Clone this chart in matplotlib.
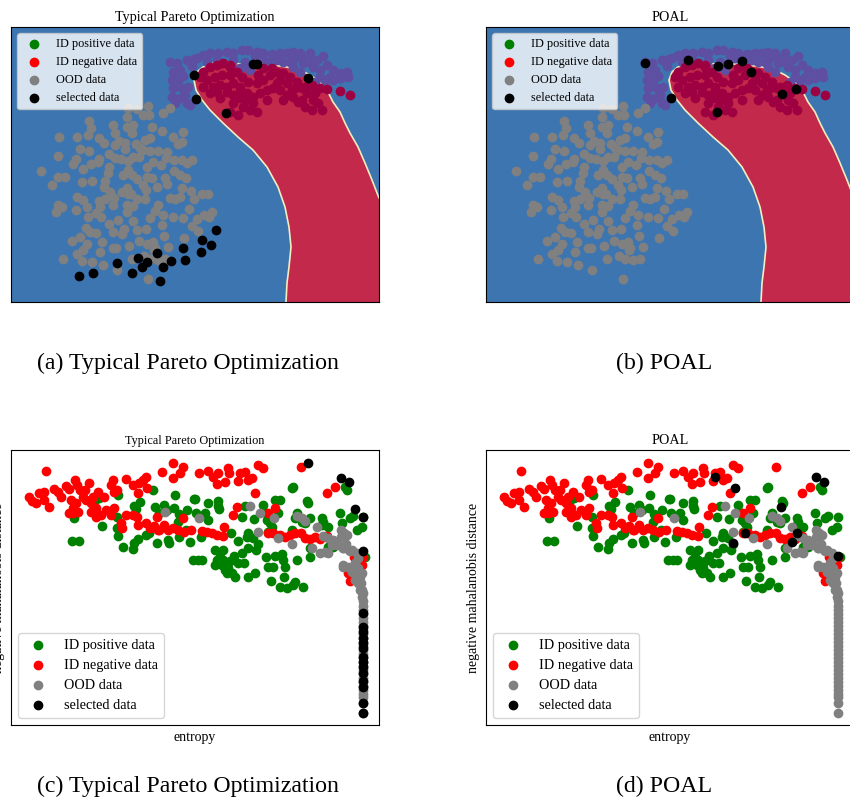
import matplotlib.pyplot as plt

plt.rcParams['font.family'] = ['Liberation Serif', 'DejaVu Serif']

# ---------------- panels (a), (b): 2-D feature space ----------------
# decision region of the "negative" class (outline of the red area)
region_pts = [(275, -2), (275, 0), (276, 19), (278, 35), (280, 55), (278, 75), (274, 95),
              (267, 115), (256, 135), (242, 152), (227, 165), (212, 179), (199, 192),
              (191, 202), (185, 212), (183, 222), (186, 230), (192, 235), (202, 239),
              (216, 240), (236, 237), (249, 238), (262, 237), (276, 235), (289, 232),
              (299, 227), (309, 220), (316, 212), (322, 200), (329, 190), (334, 179),
              (339, 169), (347, 155), (354, 139), (361, 122), (368, 104), (372, 104),
              (372, -2)]

upper_moon = [(159, 240), (166, 239), (162, 230), (169, 232), (161, 222), (167, 222), (162, 214),
              (171, 214), (161, 205), (169, 204), (176, 199), (179, 197), (164, 199), (174, 207),
              (177, 215), (176, 242), (186, 244), (192, 247), (199, 249), (207, 249), (216, 250),
              (222, 249), (231, 252), (237, 252), (246, 250), (252, 249), (261, 248), (269, 249),
              (276, 249), (282, 250), (289, 249), (299, 249), (196, 240), (206, 242), (222, 242),
              (234, 240), (249, 244), (256, 240), (266, 242), (272, 240), (282, 242), (292, 239),
              (299, 240), (229, 234), (236, 235), (239, 232), (282, 235), (289, 230), (302, 235),
              (309, 232), (316, 237), (322, 232), (329, 229), (336, 230), (337, 225), (329, 224),
              (319, 225), (309, 225), (304, 220), (314, 222), (322, 222), (279, 240), (291, 244),
              (306, 242), (312, 246), (181, 236), (172, 226), (183, 243), (244, 246), (264, 245)]

lower_moon = [(192, 230), (199, 235), (206, 237), (212, 239), (219, 237), (196, 222), (204, 225),
              (211, 227), (219, 227), (226, 230), (231, 225), (202, 215), (209, 217), (216, 215),
              (222, 219), (229, 215), (237, 220), (246, 219), (252, 222), (259, 227), (266, 230),
              (272, 229), (279, 225), (286, 220), (291, 214), (296, 209), (302, 202), (307, 199),
              (311, 192), (301, 192), (294, 195), (287, 200), (282, 205), (276, 207), (269, 212),
              (262, 214), (256, 212), (249, 209), (242, 205), (236, 202), (229, 204), (222, 207),
              (216, 210), (209, 204), (222, 199), (232, 195), (239, 192), (246, 190), (227, 187),
              (219, 190), (242, 199), (256, 202), (266, 219), (276, 219), (272, 202), (281, 212),
              (301, 217), (309, 214), (316, 213), (329, 211), (339, 207), (206, 210), (199, 209),
              (192, 215), (189, 225), (247, 227), (252, 234), (261, 234), (269, 222), (291, 202),
              (304, 209), (294, 215), (284, 214), (219, 235), (236, 209), (229, 212)]

ood_2d = [(117, 194), (126, 193), (137, 196), (116, 185), (132, 187), (138, 187), (152, 189),
          (159, 194), (78, 181), (102, 177), (116, 175), (122, 177), (80, 174), (141, 175),
          (151, 171), (104, 169), (121, 169), (48, 165), (66, 165), (77, 167), (88, 164),
          (93, 159), (108, 161), (114, 159), (125, 158), (134, 162), (139, 164), (162, 165),
          (172, 170), (167, 158), (171, 160), (69, 153), (78, 151), (104, 157), (114, 153),
          (129, 154), (132, 152), (139, 151), (147, 151), (156, 150), (47, 146), (62, 138),
          (65, 143), (88, 143), (98, 148), (104, 144), (110, 143), (117, 141), (122, 145),
          (128, 145), (142, 140), (150, 137), (155, 144), (163, 142), (171, 142), (176, 139),
          (181, 142), (30, 131), (72, 133), (80, 138), (87, 140), (98, 135), (97, 129),
          (112, 127), (117, 132), (121, 127), (126, 123), (136, 135), (136, 125), (141, 124),
          (154, 124), (163, 131), (169, 127), (175, 124), (47, 125), (54, 125), (41, 117),
          (71, 120), (81, 121), (94, 121), (93, 115), (99, 110), (111, 110), (116, 114),
          (117, 108), (120, 108), (132, 117), (135, 112), (146, 115), (156, 118), (171, 114),
          (180, 111), (191, 108), (197, 108), (66, 105), (72, 102), (88, 101), (94, 103),
          (103, 104), (126, 103), (134, 103), (159, 104), (164, 103), (169, 105), (183, 103),
          (47, 97), (51, 95), (45, 90), (65, 92), (76, 95), (89, 95), (102, 97), (116, 97),
          (122, 96), (147, 97), (144, 91), (178, 93), (201, 90), (77, 85), (85, 89), (90, 85),
          (98, 78), (107, 82), (116, 90), (122, 81), (139, 84), (152, 87), (162, 85), (172, 84),
          (186, 83), (193, 87), (198, 85), (75, 74), (79, 70), (85, 69), (102, 70), (111, 68),
          (113, 73), (126, 72), (135, 73), (151, 77), (181, 76), (187, 71), (61, 61), (69, 65),
          (76, 58), (91, 60), (102, 54), (105, 54), (118, 56), (128, 61), (136, 58), (142, 60),
          (144, 54), (153, 66), (157, 55), (173, 64), (52, 43), (66, 48), (72, 52), (71, 41),
          (81, 40), (89, 50), (92, 37), (106, 32), (121, 43), (133, 46), (139, 43), (143, 52),
          (147, 42), (154, 43), (137, 23)]

selected_a = [(183, 227), (185, 203), (215, 189), (242, 238), (246, 238), (297, 224),
              (68, 26), (82, 29), (106, 39), (121, 29), (127, 44), (131, 35), (136, 40),
              (146, 49), (152, 35), (149, 21), (160, 41), (172, 54), (174, 42), (190, 50),
              (191, 62), (200, 57), (205, 72)]

selected_b = [(159, 239), (202, 242), (232, 236), (242, 238), (256, 241), (265, 230),
              (185, 204), (231, 190), (296, 208), (310, 213)]

# ---------------- panels (c), (d): entropy vs. negative mahalanobis distance ----------------
id_positive = [(63, 207), (61, 184), (68, 184), (83, 223), (88, 227), (91, 199), (107, 230),
               (106, 208), (106, 197), (107, 189), (112, 178), (122, 176), (123, 182), (127, 186),
               (123, 219), (125, 216), (129, 223), (142, 235), (144, 218), (146, 182), (135, 190),
               (138, 192), (148, 212), (153, 220), (156, 215), (157, 185), (158, 182), (164, 230),
               (163, 217), (168, 211), (167, 203), (168, 188), (176, 215), (179, 183), (183, 226),
               (185, 212), (182, 165), (187, 165), (175, 195), (184, 226), (194, 212), (197, 222),
               (197, 205), (207, 224), (208, 216), (207, 219), (190, 188), (191, 165), (204, 175),
               (212, 175), (206, 165), (211, 160), (216, 160), (204, 160), (216, 152), (224, 148),
               (214, 155), (219, 164), (223, 169), (227, 162), (233, 162), (231, 172), (237, 177),
               (237, 148), (244, 152), (245, 175), (236, 188), (237, 192), (242, 187), (247, 181),
               (227, 184), (220, 192), (231, 208), (234, 219), (243, 206), (252, 220), (253, 213),
               (256, 205), (257, 193), (259, 202), (264, 225), (269, 225), (267, 212), (261, 198),
               (255, 168), (257, 158), (262, 158), (264, 169), (271, 171), (272, 165), (274, 158),
               (273, 148), (260, 144), (269, 138), (276, 137), (282, 140), (284, 143), (292, 138),
               (286, 165), (282, 238), (281, 237), (281, 195), (284, 207), (286, 212), (291, 203),
               (294, 202), (296, 224), (297, 222), (299, 207), (299, 168), (299, 177), (311, 207),
               (311, 200), (312, 203), (317, 198), (317, 178), (322, 178), (329, 212), (331, 202),
               (339, 207), (342, 209), (336, 235), (334, 238), (351, 198), (346, 195), (354, 168),
               (345, 148), (209, 168), (217, 157), (212, 165), (221, 152), (352, 208)]

id_negative = [(35, 254), (18, 228), (21, 224), (25, 222), (28, 232), (33, 233), (33, 225),
               (38, 218), (43, 236), (47, 233), (50, 228), (55, 239), (58, 236), (60, 225),
               (62, 217), (64, 245), (66, 240), (69, 235), (72, 228), (75, 225), (74, 235),
               (78, 242), (80, 222), (82, 228), (62, 212), (67, 213), (58, 212), (65, 222),
               (80, 213), (85, 217), (85, 208), (87, 233), (90, 210), (93, 228), (95, 215),
               (100, 240), (102, 245), (103, 233), (103, 217), (100, 210), (106, 235), (110, 202),
               (111, 197), (115, 246), (122, 240), (127, 232), (128, 242), (132, 245), (135, 248),
               (136, 237), (126, 208), (122, 210), (127, 200), (135, 202), (139, 197), (143, 199),
               (148, 195), (153, 200), (157, 195), (162, 197), (167, 195), (173, 193), (180, 195),
               (151, 253), (162, 262), (162, 247), (172, 258), (169, 252), (188, 252), (172, 207),
               (146, 208), (147, 195), (115, 210), (197, 254), (202, 248), (206, 241), (207, 252),
               (214, 243), (217, 257), (218, 252), (227, 244), (229, 252), (234, 253), (237, 245),
               (241, 247), (247, 260), (252, 257), (244, 232), (226, 218), (222, 210), (257, 212),
               (264, 217), (191, 194), (196, 193), (201, 192), (206, 190), (213, 198), (212, 189),
               (257, 192), (262, 192), (269, 190), (274, 188), (279, 190), (284, 192), (290, 192),
               (294, 187), (299, 186), (304, 188), (309, 186), (316, 189), (290, 258), (316, 232),
               (324, 238), (352, 168), (337, 152), (339, 144), (351, 160), (343, 168), (348, 164)]

ood_scores = [(188, 207), (154, 213), (239, 219), (247, 193), (249, 212), (263, 207), (267, 187),
              (281, 181), (286, 209), (291, 207), (294, 204), (301, 177), (306, 198), (309, 172),
              (314, 173), (317, 172), (312, 189), (317, 187), (322, 185), (326, 181), (330, 188),
              (333, 192), (330, 195), (336, 190), (335, 181), (338, 175), (341, 175), (346, 172),
              (332, 177), (332, 158), (337, 158), (344, 162), (347, 157), (351, 152), (341, 153),
              (344, 145), (347, 142), (349, 135), (351, 128), (352, 132), (332, 160), (342, 157),
              (347, 155), (349, 148), (350, 142), (351, 135), (321, 180), (326, 180), (332, 177),
              (339, 174), (347, 167), (344, 162), (352, 124), (352, 119), (352, 115), (352, 111),
              (352, 107), (352, 103), (352, 99), (352, 95), (352, 91), (352, 87), (352, 83),
              (352, 79), (352, 75), (352, 71), (352, 67), (352, 63), (352, 59), (352, 55),
              (352, 51), (352, 47), (352, 43), (352, 39), (352, 35), (352, 31), (352, 28),
              (352, 22), (352, 12)]

selected_c = [(297, 262), (330, 247), (338, 243), (344, 216), (352, 208), (352, 174),
              (352, 112), (352, 98), (352, 93), (352, 87), (352, 82), (352, 77), (352, 68),
              (352, 63), (352, 58), (352, 52), (352, 44), (352, 38), (352, 22), (352, 12)]

selected_d = [(229, 248), (249, 237), (295, 218), (330, 248), (338, 243), (259, 192),
              (247, 182), (311, 192), (306, 183), (352, 169)]

legend_labels = ['ID positive data', 'ID negative data', 'OOD data', 'selected data']
legend_colors = ['green', 'red', 'gray', 'black']

BLUE = '#3d75b1'
RED = '#c3294a'
CREAM = '#f3eebf'
PURPLE = '#5e4fa2'
CRIMSON = '#9e0142'


def scatter(ax, pts, color):
    xs, ys = zip(*pts)
    ax.scatter(xs, ys, c=color, s=36)


def add_legend(ax, loc, size):
    for lab, col in zip(legend_labels, legend_colors):
        ax.scatter([], [], c=col, s=36, label=lab)
    ax.legend(loc=loc, fontsize=size)


def feature_panel(ax, title, selected):
    ax.set_facecolor(BLUE)
    rx, ry = zip(*region_pts)
    ax.fill(rx, ry, color=RED, ec=CREAM, lw=1.2, zorder=0)
    scatter(ax, upper_moon, PURPLE)
    scatter(ax, lower_moon, CRIMSON)
    scatter(ax, ood_2d, 'gray')
    scatter(ax, selected, 'black')
    add_legend(ax, 'upper left', 8.8)
    ax.set_xlim(0, 368)
    ax.set_ylim(0, 275)
    ax.set_xticks([])
    ax.set_yticks([])
    ax.set_title(title, fontsize=10.2, pad=4)


def score_panel(ax, title, selected, title_size):
    scatter(ax, id_positive, 'green')
    scatter(ax, id_negative, 'red')
    scatter(ax, ood_scores, 'gray')
    scatter(ax, selected, 'black')
    add_legend(ax, 'lower left', 10.3)
    ax.set_xlim(0, 368)
    ax.set_ylim(0, 275)
    ax.set_xticks([])
    ax.set_yticks([])
    ax.set_title(title, fontsize=title_size, pad=4)
    ax.set_xlabel('entropy', fontsize=10)
    ax.set_ylabel('negative mahalanobis distance', fontsize=10)


def main():
    fig = plt.figure(figsize=(8.5, 8.02), dpi=100)
    W, H = 850, 802
    ax_a = fig.add_axes([11 / W, 500 / H, 368 / W, 275 / H])
    ax_b = fig.add_axes([486 / W, 500 / H, 368 / W, 275 / H])
    ax_c = fig.add_axes([11 / W, 77 / H, 368 / W, 275 / H])
    ax_d = fig.add_axes([486 / W, 77 / H, 368 / W, 275 / H])

    feature_panel(ax_a, 'Typical Pareto Optimization', selected_a)
    feature_panel(ax_b, 'POAL', selected_b)
    score_panel(ax_c, 'Typical Pareto Optimization', selected_c, 8.8)
    score_panel(ax_d, 'POAL', selected_d, 10.2)

    # sub-figure captions
    fig.text(188 / W, 1 - 363 / H, '(a) Typical Pareto Optimization', fontsize=17.2,
             ha='center', va='center')
    fig.text(664 / W, 1 - 363 / H, '(b) POAL', fontsize=17.2, ha='center', va='center')
    fig.text(188 / W, 1 - 786 / H, '(c) Typical Pareto Optimization', fontsize=17.2,
             ha='center', va='center')
    fig.text(664 / W, 1 - 786 / H, '(d) POAL', fontsize=17.2, ha='center', va='center')

    fig.savefig('out.png', dpi=100)
    plt.close(fig)


if __name__ == '__main__':
    main()
